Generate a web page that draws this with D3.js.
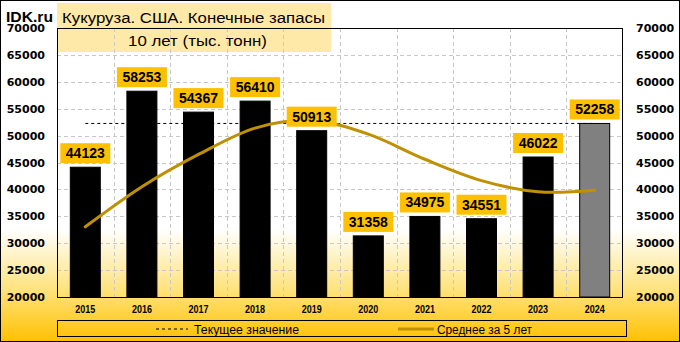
<!DOCTYPE html>
<html>
<head>
<meta charset="utf-8">
<script src="https://cdn.jsdelivr.net/npm/d3@7"></script>
<style>
  html, body { margin: 0; padding: 0; background: #fff; }
  svg { display: block; }
</style>
</head>
<body>
<script>
// ---- data ----
const years = ["2015","2016","2017","2018","2019","2020","2021","2022","2023","2024"];
const stocks = [44123, 58253, 54367, 56410, 50913, 31358, 34975, 34551, 46022, 52258];
const avg5 = [33050, 40500, 46500, 51400, 52813, 50260, 45605, 41641, 39564, 39833];
const currentValue = 52258;
const yTicks = [20000, 25000, 30000, 35000, 40000, 45000, 50000, 55000, 60000, 65000, 70000];
const titleLine1 = "Кукуруза. США. Конечные запасы";
const titleLine2 = "10 лет (тыс. тонн)";
const legendLabels = ["Текущее значение", "Среднее за 5 лет"];

const W = 680, H = 342;
const plot = { left: 57, right: 623, top: 28, bottom: 297 };

const svg = d3.select("body").append("svg").attr("width", W).attr("height", H);
const defs = svg.append("defs");
const grad = defs.append("linearGradient").attr("id", "bg").attr("x1", 0).attr("y1", 0).attr("x2", 0).attr("y2", 1);
grad.append("stop").attr("offset", "0").attr("stop-color", "#ffffff");
grad.append("stop").attr("offset", "0.67").attr("stop-color", "#ffffff");
grad.append("stop").attr("offset", "0.85").attr("stop-color", "#ffe27a");
grad.append("stop").attr("offset", "1").attr("stop-color", "#ffc000");

svg.append("rect").attr("x", 0).attr("y", 0).attr("width", W).attr("height", H).attr("fill", "url(#bg)");

// title box (under plot)
svg.append("rect").attr("x", 57).attr("y", 3).attr("width", 274).attr("height", 49).attr("fill", "#ffe9a8");

const x = d3.scaleBand().domain(years).range([plot.left, plot.right]).paddingInner(0.47).paddingOuter(0.235);
const y = d3.scaleLinear().domain([20000, 70000]).range([plot.bottom, plot.top]);
const cx = d => x(d) + x.bandwidth() / 2;
const step = x.step();

// gridlines
const grid = svg.append("g").attr("stroke", "#c8c8c8").attr("stroke-width", 1).attr("stroke-dasharray", "4,3");
grid.selectAll("line.h").data(yTicks.slice(1, -1)).join("line")
  .attr("x1", plot.left).attr("x2", plot.right)
  .attr("y1", d => Math.round(y(d)) + 0.5).attr("y2", d => Math.round(y(d)) + 0.5);
grid.selectAll("line.v").data(years.slice(1)).join("line")
  .attr("x1", d => Math.round(x(d) - (step - x.bandwidth()) / 2) + 0.5)
  .attr("x2", d => Math.round(x(d) - (step - x.bandwidth()) / 2) + 0.5)
  .attr("y1", plot.top).attr("y2", plot.bottom);

// bars
svg.append("g").selectAll("rect").data(years).join("rect")
  .attr("x", d => x(d))
  .attr("width", x.bandwidth())
  .attr("y", (d, i) => y(stocks[i]))
  .attr("height", (d, i) => plot.bottom - y(stocks[i]))
  .attr("fill", (d, i) => i === years.length - 1 ? "#808080" : "#000")
  .attr("stroke", "#000").attr("stroke-width", 1);

// current value dashed line
svg.append("line")
  .attr("x1", cx(years[0])).attr("x2", cx(years[years.length - 1]))
  .attr("y1", y(currentValue)).attr("y2", y(currentValue))
  .attr("stroke", "#000").attr("stroke-width", 1).attr("stroke-dasharray", "3,3");

// average line
const line = d3.line().x((d, i) => cx(years[i])).y(d => y(d)).curve(d3.curveCardinal.tension(0));
svg.append("path").datum(avg5).attr("d", line)
  .attr("fill", "none").attr("stroke", "#bf9000").attr("stroke-width", 3).attr("stroke-linecap", "round");

// plot border
svg.append("rect").attr("x", plot.left + 0.5).attr("y", plot.top + 0.5)
  .attr("width", plot.right - plot.left - 1).attr("height", plot.bottom - plot.top)
  .attr("fill", "none").attr("stroke", "#000").attr("stroke-width", 1);

// data labels
const lab = svg.append("g").selectAll("g").data(years).join("g")
  .attr("transform", (d, i) => `translate(${cx(d)},${y(stocks[i]) - 4})`);
lab.append("rect").attr("x", -25).attr("y", -20).attr("width", 50).attr("height", 20).attr("fill", "#ffc000");
lab.append("text").attr("x", 0).attr("y", -5).attr("text-anchor", "middle")
  .attr("font-family", "Liberation Sans, Arial, sans-serif").attr("font-weight", "bold").attr("font-size", "14px")
  .attr("fill", "#000").text((d, i) => stocks[i]);

// axes
const axFont = "DejaVu Sans, Verdana, sans-serif";
const left = svg.append("g").attr("transform", `translate(${plot.left},0)`)
  .call(d3.axisLeft(y).tickValues(yTicks).tickSize(0).tickPadding(12).tickFormat(d3.format("d")));
const right = svg.append("g").attr("transform", `translate(${plot.right},0)`)
  .call(d3.axisRight(y).tickValues(yTicks).tickSize(0).tickPadding(13).tickFormat(d3.format("d")));
[left, right].forEach(g => {
  g.select(".domain").remove();
  g.selectAll("text").attr("font-family", axFont).attr("font-weight", "bold").attr("font-size", "11px").attr("fill", "#000");
});
const bottom = svg.append("g").attr("transform", `translate(0,${plot.bottom})`)
  .call(d3.axisBottom(x).tickSize(0).tickPadding(9));
bottom.select(".domain").remove();
bottom.selectAll("text").attr("font-family", "Liberation Sans, Arial, sans-serif").attr("font-weight", "bold")
  .attr("font-size", "10.5px").attr("fill", "#000")
  .attr("textLength", 20).attr("lengthAdjust", "spacingAndGlyphs");

// title
svg.append("text").attr("x", 62).attr("y", 23).attr("font-family", "Liberation Sans, Arial, sans-serif")
  .attr("font-size", "15.5px").attr("fill", "#000")
  .attr("textLength", 263).attr("lengthAdjust", "spacingAndGlyphs").text(titleLine1);
svg.append("text").attr("x", 128).attr("y", 45.5).attr("font-family", "Liberation Sans, Arial, sans-serif")
  .attr("font-size", "15.5px").attr("fill", "#000")
  .attr("textLength", 139).attr("lengthAdjust", "spacingAndGlyphs").text(titleLine2);
svg.append("text").attr("x", 6).attr("y", 22).attr("font-family", "Liberation Sans, Arial, sans-serif")
  .attr("font-size", "14.5px").attr("font-weight", "bold").attr("fill", "#000")
  .attr("textLength", 47).attr("lengthAdjust", "spacingAndGlyphs").text("IDK.ru");

// legend
svg.append("rect").attr("x", 57.5).attr("y", 320.5).attr("width", 569).attr("height", 16)
  .attr("fill", "none").attr("stroke", "#000").attr("stroke-width", 1);
svg.append("line").attr("x1", 156).attr("x2", 188).attr("y1", 329).attr("y2", 329)
  .attr("stroke", "#000").attr("stroke-width", 1).attr("stroke-dasharray", "3,3");
svg.append("line").attr("x1", 398).attr("x2", 434).attr("y1", 329).attr("y2", 329)
  .attr("stroke", "#bf9000").attr("stroke-width", 3);
const legFont = "Liberation Sans, Arial, sans-serif";
svg.append("text").attr("x", 194).attr("y", 333.5).attr("font-family", legFont).attr("font-size", "12px")
  .attr("fill", "#000").attr("textLength", 105).attr("lengthAdjust", "spacingAndGlyphs").text(legendLabels[0]);
svg.append("text").attr("x", 437).attr("y", 333.5).attr("font-family", legFont).attr("font-size", "12px")
  .attr("fill", "#000").attr("textLength", 95).attr("lengthAdjust", "spacingAndGlyphs").text(legendLabels[1]);

// outer border
svg.append("rect").attr("x", 0.5).attr("y", 0.5).attr("width", W - 1).attr("height", H - 1)
  .attr("fill", "none").attr("stroke", "#000").attr("stroke-width", 1);
</script>
</body>
</html>
